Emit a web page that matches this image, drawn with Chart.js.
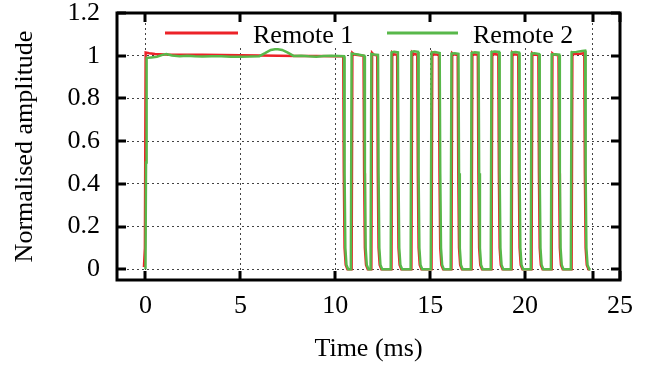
<!DOCTYPE html>
<html>
<head>
<meta charset="utf-8">
<script src="https://cdn.jsdelivr.net/npm/chart.js@4/dist/chart.umd.min.js"></script>
<style>
  html, body { margin: 0; padding: 0; background: #fff; }
  #wrap { width: 648px; height: 365px; position: relative; }
</style>
</head>
<body>
<div id="wrap"><canvas id="c" width="648" height="365"></canvas></div>
<script>
// ---------------- data ----------------
const seriesNames = ['Remote 1', 'Remote 2'];

const remote1Time = [
  -0.08, -0.03, 0.01, 0.2, 0.5, 1.0, 2.0, 3.0, 4.0, 5.0, 6.0, 7.0, 8.0, 9.0, 10.0, 10.42,
  10.45, 10.49, 10.55, 10.64,
  10.86, 10.90, 11.00, 11.49, 11.52, 11.56, 11.62, 11.71,
  11.90, 11.94, 12.02, 12.21, 12.24, 12.28, 12.34, 12.43,
  12.96, 13.00, 13.08, 13.26, 13.29, 13.33, 13.39, 13.48,
  14.01, 14.05, 14.13, 14.32, 14.35, 14.39, 14.45, 14.54,
  15.07, 15.11, 15.20, 15.46, 15.49, 15.53, 15.59, 15.68,
  16.12, 16.16, 16.24, 16.45, 16.48, 16.52, 16.58, 16.67,
  17.18, 17.22, 17.30, 17.51, 17.54, 17.58, 17.64, 17.73,
  18.23, 18.27, 18.35, 18.59, 18.62, 18.66, 18.72, 18.81,
  19.29, 19.33, 19.41, 19.64, 19.67, 19.71, 19.77, 19.86,
  20.34, 20.38, 20.46, 20.70, 20.73, 20.77, 20.83, 20.92,
  21.40, 21.44, 21.52, 21.76, 21.79, 21.83, 21.89, 21.98,
  22.45, 22.49, 22.60, 22.90, 23.12, 23.15, 23.19, 23.25, 23.34, 23.42
];
const remote1Amp = [
  0.01, 0.10, 1.015, 1.012, 1.008, 1.006, 1.004, 1.004, 1.003, 1.002, 1.001, 1.000, 0.999, 0.999, 0.998, 0.997,
  0.45, 0.10, 0.02, 0.00,
  0.00, 1.013, 1.006, 1.000, 0.45, 0.10, 0.02, 0.00,
  0.00, 1.013, 1.005, 1.001, 0.45, 0.10, 0.02, 0.00,
  0.00, 1.014, 1.007, 1.004, 0.45, 0.10, 0.02, 0.00,
  0.00, 1.015, 1.008, 1.005, 0.45, 0.10, 0.02, 0.00,
  0.00, 1.014, 1.007, 1.004, 0.45, 0.10, 0.02, 0.00,
  0.00, 1.012, 1.006, 1.003, 0.45, 0.10, 0.02, 0.00,
  0.00, 1.013, 1.007, 1.004, 0.45, 0.10, 0.02, 0.00,
  0.00, 1.014, 1.008, 1.005, 0.45, 0.10, 0.02, 0.00,
  0.00, 1.014, 1.007, 1.004, 0.45, 0.10, 0.02, 0.00,
  0.00, 1.012, 1.006, 1.003, 0.45, 0.10, 0.02, 0.00,
  0.00, 1.011, 1.005, 1.002, 0.45, 0.10, 0.02, 0.00,
  0.00, 1.014, 1.008, 1.009, 1.012, 0.45, 0.10, 0.02, 0.00, 0.00
];

const remote2Time = [
  0.00, 0.03, 0.06, 0.3, 0.6, 0.9, 1.1, 1.4, 1.8, 2.2, 2.6, 3.0, 3.5, 4.0, 4.5, 5.0, 5.5, 6.0,
  6.3, 6.6, 6.9, 7.2, 7.5, 7.8, 8.2, 8.6, 9.0, 9.4, 9.8, 10.2, 10.46,
  10.49, 10.53, 10.59, 10.68,
  10.82, 10.86, 11.20, 11.53, 11.56, 11.60, 11.66, 11.75,
  11.86, 11.90, 12.05, 12.25, 12.28, 12.32, 12.38, 12.47,
  12.92, 12.96, 13.10, 13.30, 13.33, 13.37, 13.43, 13.52,
  13.97, 14.01, 14.15, 14.36, 14.39, 14.43, 14.49, 14.58,
  15.03, 15.07, 15.25, 15.50, 15.53, 15.57, 15.63, 15.72,
  16.08, 16.12, 16.30, 16.49, 16.52, 16.56, 16.62, 16.71,
  17.14, 17.18, 17.35, 17.55, 17.58, 17.62, 17.68, 17.77,
  18.19, 18.23, 18.40, 18.63, 18.66, 18.70, 18.76, 18.85,
  19.25, 19.29, 19.50, 19.68, 19.71, 19.75, 19.81, 19.90,
  20.30, 20.34, 20.50, 20.74, 20.77, 20.81, 20.87, 20.96,
  21.36, 21.40, 21.60, 21.80, 21.83, 21.87, 21.93, 22.02,
  22.41, 22.45, 22.70, 23.00, 23.16, 23.19, 23.23, 23.29, 23.38, 23.45
];
const remote2Amp = [
  0.00, 0.50, 0.990, 0.992, 0.995, 1.004, 1.008, 1.001, 0.998, 1.000, 0.997, 0.996, 0.998, 0.997, 0.995, 0.995, 0.996, 0.998,
  1.012, 1.027, 1.031, 1.027, 1.014, 0.999, 1.000, 0.997, 0.995, 0.999, 1.000, 0.999, 0.998,
  0.45, 0.10, 0.02, 0.00,
  0.00, 1.010, 1.006, 1.000, 0.45, 0.10, 0.02, 0.00,
  0.00, 1.008, 1.006, 1.004, 0.45, 0.10, 0.02, 0.00,
  0.00, 1.015, 1.018, 1.016, 0.45, 0.10, 0.02, 0.00,
  0.00, 1.018, 1.021, 1.018, 0.45, 0.10, 0.02, 0.00,
  0.00, 1.015, 1.017, 1.013, 0.45, 0.10, 0.02, 0.00,
  0.00, 1.010, 1.012, 1.009, 0.45, 0.10, 0.02, 0.00,
  0.00, 1.013, 1.016, 1.014, 0.45, 0.10, 0.02, 0.00,
  0.00, 1.017, 1.020, 1.018, 0.45, 0.10, 0.02, 0.00,
  0.00, 1.015, 1.017, 1.015, 0.45, 0.10, 0.02, 0.00,
  0.00, 1.010, 1.011, 1.008, 0.45, 0.10, 0.02, 0.00,
  0.00, 1.006, 1.007, 1.005, 0.45, 0.10, 0.02, 0.00,
  0.00, 1.016, 1.018, 1.022, 1.024, 0.45, 0.10, 0.02, 0.00, 0.00
];

const xTickValues = [0, 5, 10, 15, 20, 23.57, 25];
const xTickLabels = ['0', '5', '10', '15', '20', '', '25'];
const yTickValues = [0, 0.2, 0.4, 0.6, 0.8, 1, 1.2];
const yTickLabels = ['0', '0.2', '0.4', '0.6', '0.8', '1', '1.2'];
const xTitle = 'Time (ms)';
const yTitle = 'Normalised amplitude';

// ---------------- styling ----------------
const FONT = "'Liberation Serif', 'Times New Roman', serif";
const FS = 26;
const RED = '#ec2228';
const GREEN = '#58b84a';

function toPoints(t, a) { return t.map((x, i) => ({ x: x, y: a[i] })); }

const framePlugin = {
  id: 'frame',
  afterDatasetsDraw(chart) {
    const ctx = chart.ctx;
    const a = chart.chartArea;
    const xs = chart.scales.x, ys = chart.scales.y;
    ctx.save();
    // legend box (opaque)
    ctx.fillStyle = '#fff';
    ctx.fillRect(150, a.top + 1, 438, 34);
    const items = [
      { label: chart.data.datasets[0].label, color: chart.data.datasets[0].borderColor, x0: 165, x1: 238, tx: 253 },
      { label: chart.data.datasets[1].label, color: chart.data.datasets[1].borderColor, x0: 387, x1: 458, tx: 473 }
    ];
    ctx.font = FS + 'px ' + FONT;
    ctx.textBaseline = 'alphabetic';
    ctx.textAlign = 'left';
    items.forEach(it => {
      ctx.strokeStyle = it.color;
      ctx.lineWidth = 3;
      ctx.beginPath();
      ctx.moveTo(it.x0, a.top + 20);
      ctx.lineTo(it.x1, a.top + 20);
      ctx.stroke();
      ctx.fillStyle = '#000';
      ctx.fillText(it.label, it.tx, a.top + 30);
    });
    // ticks (inward, mirrored)
    ctx.strokeStyle = '#000';
    ctx.lineWidth = 3;
    const TL = 9;
    xTickValues.forEach(v => {
      const px = Math.round(xs.getPixelForValue(v));
      ctx.beginPath();
      ctx.moveTo(px, a.bottom); ctx.lineTo(px, a.bottom - TL);
      ctx.moveTo(px, a.top); ctx.lineTo(px, a.top + TL);
      ctx.stroke();
    });
    yTickValues.forEach(v => {
      const py = Math.round(ys.getPixelForValue(v));
      ctx.beginPath();
      ctx.moveTo(a.left, py); ctx.lineTo(a.left + TL, py);
      ctx.moveTo(a.right, py); ctx.lineTo(a.right - TL, py);
      ctx.stroke();
    });
    // frame
    ctx.lineWidth = 3;
    ctx.strokeRect(a.left, a.top, a.right - a.left, a.bottom - a.top);
    ctx.restore();
  }
};

new Chart(document.getElementById('c'), {
  type: 'line',
  data: {
    datasets: [
      { label: seriesNames[0], data: toPoints(remote1Time, remote1Amp), borderColor: RED, backgroundColor: RED,
        borderWidth: 2.5, pointRadius: 0, tension: 0, fill: false, order: 1 },
      { label: seriesNames[1], data: toPoints(remote2Time, remote2Amp), borderColor: GREEN, backgroundColor: GREEN,
        borderWidth: 2.5, pointRadius: 0, tension: 0, fill: false, order: 0 }
    ]
  },
  options: {
    responsive: false,
    animation: false,
    devicePixelRatio: 1,
    layout: { padding: { top: 13, right: 28, left: 0, bottom: 0 } },
    plugins: { legend: { display: false }, tooltip: { enabled: false } },
    scales: {
      x: {
        type: 'linear',
        min: -1.5, max: 25,
        afterFit(s) { s.height = 85; s.paddingLeft = 0; s.paddingRight = 0; },
        afterBuildTicks(s) { s.ticks = xTickValues.map(v => ({ value: v })); },
        grid: { color: '#444', lineWidth: 1, drawTicks: false },
        border: { display: false, dash: [2, 3] },
        ticks: {
          autoSkip: false, maxRotation: 0, padding: 11, color: '#000',
          font: { family: FONT, size: FS },
          callback(v) { const i = xTickValues.indexOf(v); return i >= 0 ? xTickLabels[i] : ''; }
        },
        title: { display: true, text: xTitle, color: '#000', font: { family: FONT, size: FS }, padding: { top: 0, bottom: 0 } }
      },
      y: {
        type: 'linear',
        min: -0.05, max: 1.2,
        afterFit(s) { s.width = 117; s.paddingTop = 0; s.paddingBottom = 0; },
        afterBuildTicks(s) { s.ticks = yTickValues.map(v => ({ value: v })); },
        grid: { color: '#444', lineWidth: 1, drawTicks: false },
        border: { display: false, dash: [2, 3] },
        ticks: {
          autoSkip: false, padding: 17, color: '#000',
          font: { family: FONT, size: FS },
          callback(v) { const i = yTickValues.findIndex(t => Math.abs(t - v) < 1e-9); return i >= 0 ? yTickLabels[i] : ''; }
        },
        title: { display: true, text: yTitle, color: '#000', font: { family: FONT, size: FS }, padding: { top: 10, bottom: 0 } }
      }
    }
  },
  plugins: [framePlugin]
});
</script>
</body>
</html>
